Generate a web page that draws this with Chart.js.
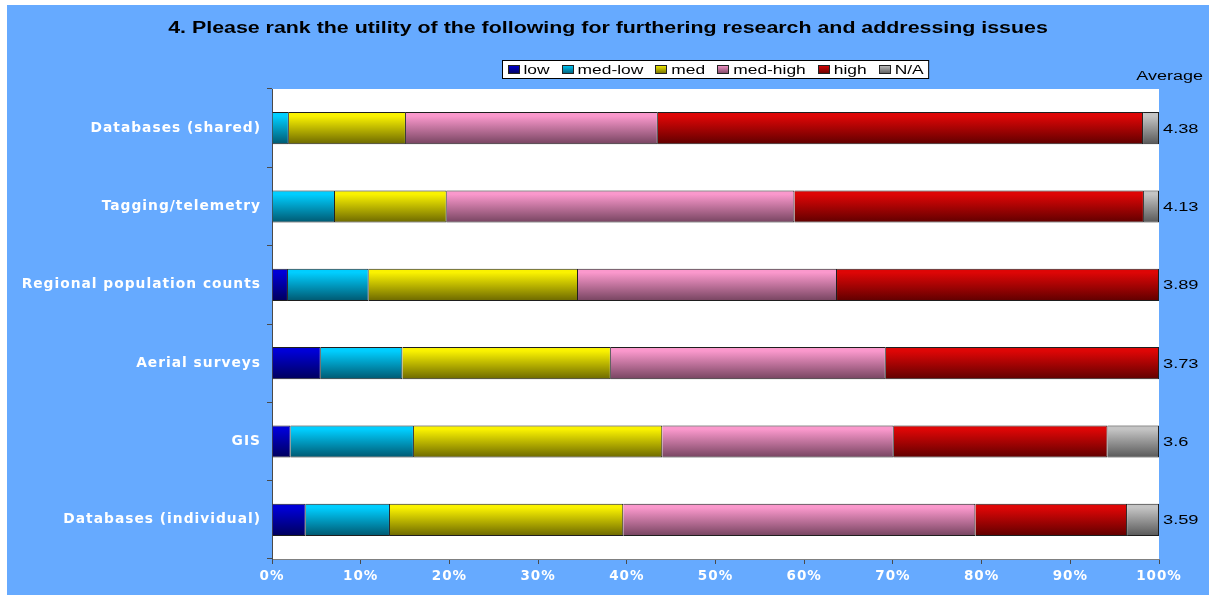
<!DOCTYPE html>
<html><head><meta charset="utf-8">
<script src="https://cdn.jsdelivr.net/npm/chart.js@4/dist/chart.umd.min.js"></script>
<style>html,body{margin:0;padding:0;background:#fff;overflow:hidden}</style>
</head><body>
<canvas id="c" width="1209" height="595" style="display:block"></canvas>
<script>
const chartTitle = '4. Please rank the utility of the following for furthering research and addressing issues';
const categories = ['Databases (shared)', 'Tagging/telemetry', 'Regional population counts', 'Aerial surveys', 'GIS', 'Databases (individual)'];
const seriesNames = ['low', 'med-low', 'med', 'med-high', 'high', 'N/A'];
const low     = [0.0, 0.0, 1.8, 5.5, 2.1, 3.8];
const medLow  = [1.9, 7.1, 9.1, 9.2, 13.9, 9.5];
const med     = [13.2, 12.6, 23.6, 23.5, 28.0, 26.3];
const medHigh = [28.4, 39.2, 29.2, 31.0, 26.1, 39.7];
const high    = [54.7, 39.4, 36.3, 30.8, 24.1, 17.1];
const na      = [1.8, 1.7, 0.0, 0.0, 5.8, 3.6];
const averageHeader = 'Average';
const averages = ['4.38', '4.13', '3.89', '3.73', '3.6', '3.59'];
const xTickLabels = ['0%', '10%', '20%', '30%', '40%', '50%', '60%', '70%', '80%', '90%', '100%'];

const topColors = ['rgb(0,0,215)', 'rgb(0,206,255)', 'rgb(250,242,0)', 'rgb(250,152,204)', 'rgb(222,6,6)', 'rgb(196,196,196)'];
const bottomColors = ['rgb(0,0,92)', 'rgb(0,88,112)', 'rgb(108,104,0)', 'rgb(118,68,96)', 'rgb(96,0,0)', 'rgb(88,88,88)'];
const BAR_PCT = 0.41;

function gradFor(i) {
  return (ctx) => {
    const chart = ctx.chart;
    const ys = chart.scales && chart.scales.y;
    if (ctx.type !== 'data' || !chart.chartArea || !ys) return topColors[i];
    const cy = ys.getPixelForValue(ctx.dataIndex);
    const h = (ys.bottom - ys.top) / categories.length * BAR_PCT / 2;
    const g = chart.ctx.createLinearGradient(0, cy - h, 0, cy + h);
    g.addColorStop(0, topColors[i]);
    g.addColorStop(0.12, topColors[i]);
    g.addColorStop(1, bottomColors[i]);
    return g;
  };
}

const seriesData = [low, medLow, med, medHigh, high, na];
const datasets = seriesNames.map((name, i) => ({
  label: name,
  data: seriesData[i],
  backgroundColor: gradFor(i),
  borderColor: '#1e1e1e',
  borderWidth: 1,
  barPercentage: BAR_PCT,
  categoryPercentage: 1.0
}));

function stretchText(c, text, x, y, sx, align) {
  const w = c.measureText(text).width * sx;
  let left = x;
  if (align === 'center') left = x - w / 2;
  else if (align === 'right') left = x - w;
  c.save();
  c.translate(left, y);
  c.scale(sx, 1);
  c.textAlign = 'left';
  c.fillText(text, 0, 0);
  c.restore();
  return w;
}

const decor = {
  id: 'decor',
  beforeDraw(chart) {
    const c = chart.ctx, a = chart.chartArea;
    c.save();
    c.fillStyle = '#ffffff';
    c.fillRect(0, 0, chart.width, chart.height);
    c.fillStyle = '#66aaff';
    c.fillRect(7, 5, chart.width - 7, chart.height - 5);
    c.fillStyle = '#ffffff';
    c.fillRect(a.left, a.top, a.right - a.left, a.bottom - a.top);
    c.restore();
    c.letterSpacing = '1px';
  },
  afterDraw(chart) {
    const c = chart.ctx, a = chart.chartArea;
    c.letterSpacing = '0px';
    c.save();
    c.textBaseline = 'middle';
    // title
    c.fillStyle = '#000';
    c.font = 'bold 16px "Liberation Sans", Arial, sans-serif';
    stretchText(c, chartTitle, (7 + chart.width) / 2, 29, 1.335, 'center');

    // legend
    c.font = '12px "Liberation Sans", Arial, sans-serif';
    const sx = 1.45, sq = 12, sqH = 9, gapSq = 4, gapItem = 12, padL = 5;
    const widths = seriesNames.map(n => c.measureText(n).width * sx);
    let total = padL * 2;
    widths.forEach((w, i) => { total += sq + gapSq + w + (i < widths.length - 1 ? gapItem : 0); });
    const cx = (a.left + a.right) / 2;
    const bx = Math.round(cx - total / 2) + 0.5, by = 60.5, bh = 18;
    c.fillStyle = '#fff';
    c.fillRect(bx, by, total, bh);
    c.strokeStyle = '#000';
    c.lineWidth = 1;
    c.strokeRect(bx, by, total, bh);
    let x = bx + padL;
    const my = by + bh / 2;
    seriesNames.forEach((n, i) => {
      const g = c.createLinearGradient(0, my - sqH / 2, 0, my + sqH / 2);
      g.addColorStop(0, topColors[i]);
      g.addColorStop(1, bottomColors[i]);
      c.fillStyle = g;
      c.fillRect(Math.round(x), Math.round(my - sqH / 2), sq, sqH);
      c.strokeStyle = '#222';
      c.strokeRect(Math.round(x) + 0.5, Math.round(my - sqH / 2) + 0.5, sq - 1, sqH - 1);
      x += sq + gapSq;
      c.fillStyle = '#000';
      stretchText(c, n, x, my + 1, sx, 'left');
      x += widths[i] + gapItem;
    });

    // averages
    c.font = '12.5px "Liberation Sans", Arial, sans-serif';
    c.fillStyle = '#000';
    stretchText(c, averageHeader, chart.width - 6, 77, 1.44, 'right');
    const ys = chart.scales.y;
    averages.forEach((v, i) => {
      stretchText(c, v, a.right + 4, ys.getPixelForValue(i) + 1, 1.46, 'left');
    });
    c.restore();
  }
};

new Chart(document.getElementById('c'), {
  type: 'bar',
  data: { labels: categories, datasets },
  options: {
    indexAxis: 'y',
    responsive: false,
    animation: false,
    devicePixelRatio: 1,
    layout: { padding: { top: 89, right: 50, left: 0, bottom: 0 } },
    plugins: { legend: { display: false }, title: { display: false }, tooltip: { enabled: false } },
    scales: {
      x: {
        stacked: true, min: 0, max: 100,
        ticks: {
          stepSize: 10, color: '#ffffff', padding: 4, maxRotation: 0, autoSkip: false,
          font: { family: 'DejaVu Sans', size: 13.5, weight: 'bold' },
          callback: (v, i) => xTickLabels[i]
        },
        grid: { drawOnChartArea: false, drawTicks: true, tickLength: 5, color: '#4a4a4a' },
        border: { color: '#808080' },
        afterFit(s) { s.height = 36; }
      },
      y: {
        stacked: true,
        ticks: { color: '#ffffff', padding: 6, autoSkip: false, font: { family: 'DejaVu Sans', size: 13.8, weight: 'bold' } },
        grid: { drawOnChartArea: false, drawTicks: true, tickLength: 5, color: '#4a4a4a', offset: true },
        border: { color: '#4a4a4a' },
        afterFit(s) { s.width = 272; }
      }
    }
  },
  plugins: [decor]
});
</script>
</body></html>
